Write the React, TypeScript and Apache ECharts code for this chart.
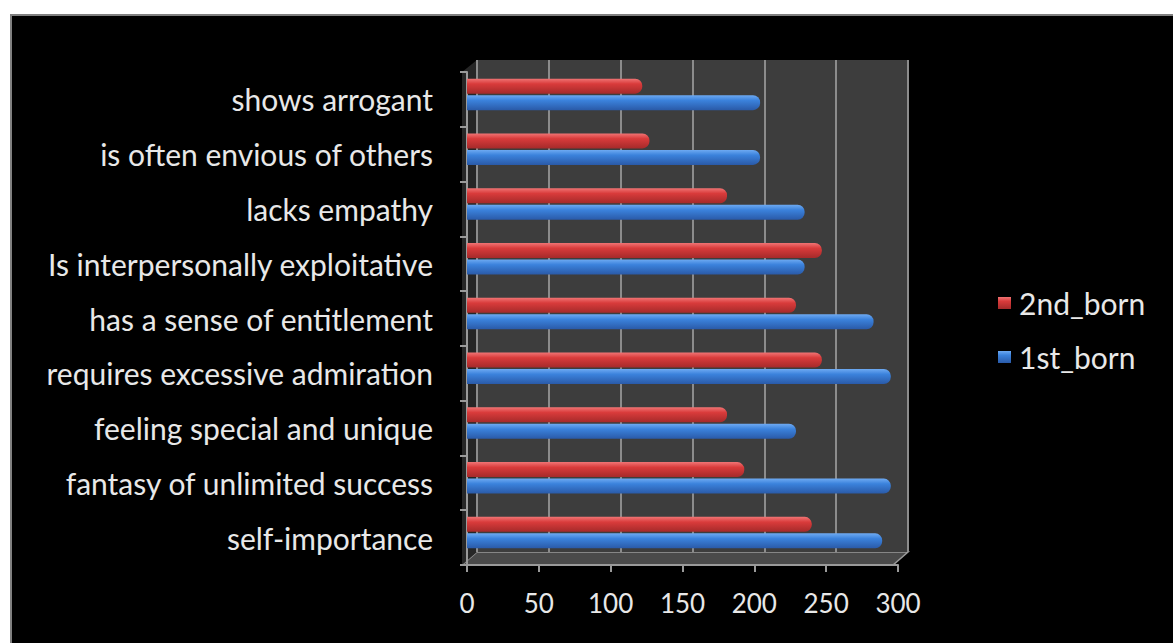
import React, { useEffect, useRef } from "react";
import * as echarts from "echarts";

const categories = [
  "self-importance",
  "fantasy of unlimited success",
  "feeling special and unique",
  "requires excessive admiration",
  "has a sense of entitlement",
  "Is interpersonally exploitative",
  "lacks empathy",
  "is often envious of others",
  "shows arrogant",
];
const firstBorn = [289, 295, 229, 295, 283, 235, 235, 204, 204];
const secondBorn = [240, 193, 181, 247, 229, 247, 181, 127, 122];
const seriesNames = ["2nd_born", "1st_born"];
const legendOrder = ["2nd_born", "1st_born"];
const xMin = 0;
const xMax = 300;
const xStep = 50;

const FONT = "Lato, 'Open Sans', sans-serif";
const TEXT = "#e8e8e8";

export default function App() {
  const ref = useRef<HTMLDivElement>(null);
  useEffect(() => {
    if (!ref.current) return;
    const chart = echarts.init(ref.current, null, { renderer: "svg" });
    const grad = (a: string, b: string, c: string) =>
      new echarts.graphic.LinearGradient(0, 0, 0, 1, [
        { offset: 0, color: a },
        { offset: 0.35, color: b },
        { offset: 1, color: c },
      ]);
    chart.setOption({
      animation: false,
      backgroundColor: "#000",
      textStyle: { fontFamily: FONT },
      grid: [
        // back wall
        { left: 465, right: 265, top: 44, bottom: 91, show: true, backgroundColor: "#3d3d3d", borderWidth: 0, containLabel: false },
        // visible axes
        { left: 455, right: 275, top: 56, bottom: 78, containLabel: false },
        // bars (shifted up for 3D depth look)
        { left: 455, right: 275, top: 51, bottom: 83, containLabel: false },
      ],
      xAxis: [
        {
          gridIndex: 0, type: "value", min: xMin, max: xMax, interval: xStep,
          axisLabel: { show: false }, axisLine: { show: false }, axisTick: { show: false },
          splitLine: { show: true, lineStyle: { color: "#8c8c8c", width: 2 } },
        },
        {
          gridIndex: 1, type: "value", min: xMin, max: xMax, interval: xStep,
          axisLine: { show: true, lineStyle: { color: "#9a9a9a", width: 2 } },
          axisTick: { show: true, length: 7, lineStyle: { color: "#9a9a9a", width: 2 } },
          splitLine: { show: false },
          axisLabel: { color: TEXT, fontSize: 26, fontFamily: FONT, margin: 25 },
        },
        {
          gridIndex: 2, type: "value", min: xMin, max: xMax, interval: xStep, show: false,
          splitLine: { show: false },
        },
      ],
      yAxis: [
        { gridIndex: 0, type: "category", data: categories, show: false },
        {
          gridIndex: 1, type: "category", data: categories, offset: 5,
          axisLine: { show: true, lineStyle: { color: "#9a9a9a", width: 2 } },
          axisTick: { show: true, length: 7, lineStyle: { color: "#9a9a9a", width: 2 } },
          axisLabel: { color: TEXT, fontSize: 30, fontFamily: FONT, margin: 29 },
        },
        { gridIndex: 2, type: "category", data: categories, show: false },
      ],
      legend: {
        orient: "vertical",
        left: 981,
        top: 267,
        data: legendOrder,
        icon: "rect",
        itemWidth: 13,
        itemHeight: 12,
        itemGap: 24,
        textStyle: { color: TEXT, fontSize: 30, fontFamily: FONT, padding: [0, 0, 0, 3] },
      },
      graphic: [
        {
          type: "polygon",
          z: -1,
          shape: { points: [[450, 549], [881, 549], [896, 536], [465, 536]] },
          style: { fill: "#4a4a4a", stroke: "#9a9a9a", lineWidth: 1.5 },
        },
        {
          type: "polygon",
          z: -1,
          shape: { points: [[450, 56], [465, 44], [465, 536], [450, 549]] },
          style: { fill: "#262626" },
        },
      ],
      series: [
        {
          name: seriesNames[0],
          type: "bar",
          xAxisIndex: 2,
          yAxisIndex: 2,
          data: secondBorn,
          barWidth: 15,
          barGap: "10%",
          itemStyle: { color: grad("#f07474", "#d93b3b", "#a52a2a"), borderRadius: [0, 7, 7, 0] },
        },
        {
          name: seriesNames[1],
          type: "bar",
          xAxisIndex: 2,
          yAxisIndex: 2,
          data: firstBorn,
          barWidth: 15,
          barGap: "10%",
          itemStyle: { color: grad("#6eaaf2", "#3b82dc", "#2a5aa8"), borderRadius: [0, 7, 7, 0] },
        },
      ],
    });
    return () => chart.dispose();
  }, []);
  return (
    <div style={{ position: "fixed", left: 0, top: 0, width: 1173, height: 643, background: "#fff" }}>
      <div
        style={{
          position: "absolute",
          left: 10,
          top: 14,
          width: 1163,
          height: 629,
          boxSizing: "border-box",
          borderTop: "2px solid #808080",
          borderLeft: "2px solid #808080",
          background: "#000",
        }}
      >
        <div ref={ref} style={{ width: 1161, height: 627 }} />
      </div>
    </div>
  );
}
